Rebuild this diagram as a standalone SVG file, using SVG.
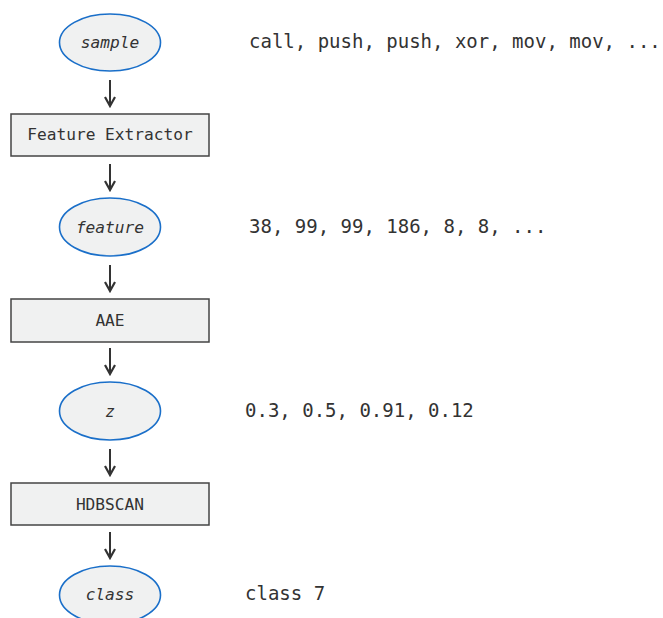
<svg xmlns="http://www.w3.org/2000/svg" width="663" height="618" viewBox="0 0 663 618">
<defs>
<style>
.ell{fill:#f0f1f1;stroke:#1a6fc9;stroke-width:1.6}
.box{fill:#f0f1f1;stroke:#444;stroke-width:1.5}
.lbl{font-family:"DejaVu Sans Mono","Liberation Mono",monospace;font-size:16.2px;fill:#333;text-anchor:middle}
.it{font-style:italic}
.side{font-family:"DejaVu Sans Mono","Liberation Mono",monospace;font-size:19px;fill:#333}
.edge{stroke:#333;stroke-width:2;fill:none}
</style>
<marker id="ah" viewBox="0 0 12 12" refX="10" refY="6" markerWidth="12" markerHeight="12" markerUnits="userSpaceOnUse" orient="auto">
<path d="M1,1 L10,6 L1,11" fill="none" stroke="#333" stroke-width="2.2"/>
</marker>
</defs>
<rect width="663" height="618" fill="#fff"/>
<g id="connectors">
<line class="edge" x1="110" y1="80" x2="110" y2="106" marker-end="url(#ah)"/>
<line class="edge" x1="110" y1="164" x2="110" y2="190" marker-end="url(#ah)"/>
<line class="edge" x1="110" y1="265" x2="110" y2="291" marker-end="url(#ah)"/>
<line class="edge" x1="110" y1="348" x2="110" y2="374" marker-end="url(#ah)"/>
<line class="edge" x1="110" y1="449" x2="110" y2="475" marker-end="url(#ah)"/>
<line class="edge" x1="110" y1="532" x2="110" y2="558" marker-end="url(#ah)"/>
</g>
<g id="sample">
<ellipse class="ell" cx="110" cy="42.5" rx="50.5" ry="28.5"/>
<text class="lbl it" x="110" y="48">sample</text>
</g>
<g id="feature-extractor">
<rect class="box" x="11" y="114" width="198" height="42"/>
<text class="lbl" x="110" y="140">Feature Extractor</text>
</g>
<g id="feature">
<ellipse class="ell" cx="110" cy="227" rx="50.5" ry="29"/>
<text class="lbl it" x="110" y="233">feature</text>
</g>
<g id="aae">
<rect class="box" x="11" y="299" width="198" height="43"/>
<text class="lbl" x="110" y="326">AAE</text>
</g>
<g id="z">
<ellipse class="ell" cx="110" cy="411" rx="50.5" ry="29"/>
<text class="lbl it" x="110" y="417">z</text>
</g>
<g id="hdbscan">
<rect class="box" x="11" y="483" width="198" height="42"/>
<text class="lbl" x="110" y="510">HDBSCAN</text>
</g>
<g id="class">
<ellipse class="ell" cx="110" cy="595" rx="50.5" ry="29"/>
<text class="lbl it" x="110" y="600">class</text>
</g>
<g id="annotations">
<text class="side" x="249" y="48">call, push, push, xor, mov, mov, ...</text>
<text class="side" x="249" y="233">38, 99, 99, 186, 8, 8, ...</text>
<text class="side" x="245" y="417">0.3, 0.5, 0.91, 0.12</text>
<text class="side" x="245" y="600">class 7</text>
</g>
</svg>
